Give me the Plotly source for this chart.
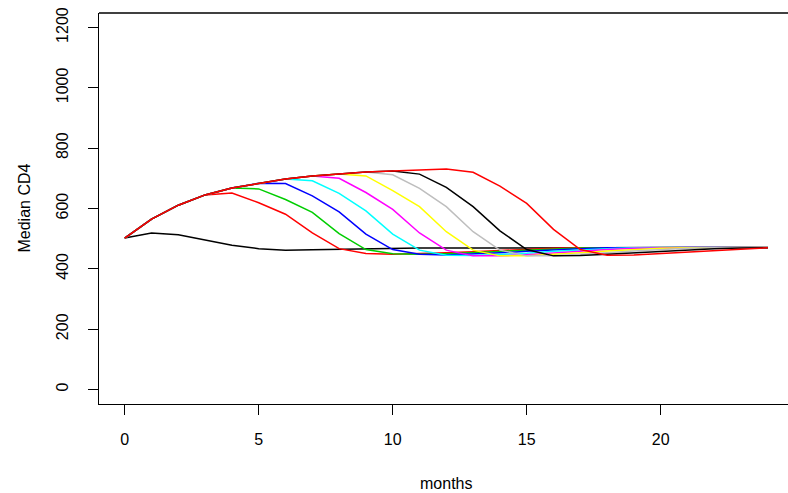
import plotly.graph_objects as go

months = list(range(25))

baseline = [502, 519, 513, 495, 478, 467, 462, 463, 465, 467, 468, 469, 469,
            469, 469, 470, 470, 470, 470, 470, 470, 471, 471, 471, 471]
switch4 = [502, 565, 611, 645, 651, 619, 581, 519, 467, 451, 448, 450, 453,
           457, 461, 465, 468, 470, 470, 471, 471, 471, 471, 471, 471]
switch5 = [502, 565, 611, 645, 668, 665, 630, 587, 517, 464, 450, 448, 450,
           454, 458, 462, 466, 469, 470, 471, 471, 471, 471, 471, 471]
switch6 = [502, 565, 611, 645, 668, 684, 683, 642, 589, 515, 464, 448, 446,
           449, 453, 458, 463, 467, 470, 471, 471, 471, 471, 471, 471]
switch7 = [502, 565, 611, 645, 668, 684, 698, 692, 650, 592, 515, 462, 445,
           444, 447, 452, 458, 463, 467, 470, 471, 471, 471, 471, 471]
switch8 = [502, 565, 611, 645, 668, 684, 698, 708, 700, 653, 597, 519, 462,
           443, 443, 447, 453, 459, 464, 468, 470, 471, 471, 471, 471]
switch9 = [502, 565, 611, 645, 668, 684, 698, 708, 714, 708, 659, 606, 523,
           462, 443, 443, 447, 453, 459, 464, 468, 470, 471, 471, 471]
switch10 = [502, 565, 611, 645, 668, 684, 698, 708, 714, 721, 712, 667, 606,
            523, 462, 443, 443, 447, 453, 459, 464, 468, 470, 471, 471]
switch11 = [502, 565, 611, 645, 668, 684, 698, 708, 714, 721, 724, 714, 670,
            606, 526, 464, 443, 444, 448, 453, 459, 464, 467, 469, 470]
switch12 = [502, 565, 611, 645, 668, 684, 698, 708, 714, 721, 724, 728, 731,
            720, 674, 617, 531, 464, 445, 446, 451, 456, 462, 467, 470]

series = [baseline, switch4, switch5, switch6, switch7, switch8,
          switch9, switch10, switch11, switch12]
colors = ["#000000", "#FF0000", "#00CD00", "#0000FF", "#00FFFF",
          "#FF00FF", "#FFFF00", "#BEBEBE", "#000000", "#FF0000"]

x_ticks = [0, 5, 10, 15, 20]
y_ticks = [0, 200, 400, 600, 800, 1000, 1200]

fig = go.Figure()
for vals, col in zip(series, colors):
    fig.add_trace(go.Scatter(x=months, y=vals, mode="lines",
                             line=dict(color=col, width=1.5),
                             showlegend=False, hoverinfo="skip"))

font = dict(family="Liberation Sans, Arial, sans-serif", size=16, color="black")

fig.update_layout(
    width=788, height=493,
    margin=dict(l=99, r=0, t=13, b=89),
    paper_bgcolor="white", plot_bgcolor="white",
    font=font,
    xaxis=dict(range=[-0.96, 24.75], tickvals=x_ticks,
               ticktext=[str(v) for v in x_ticks],
               showgrid=False, zeroline=False, showline=True,
               linecolor="black", linewidth=1.3,
               ticks="outside", ticklen=10, tickwidth=1.3, tickcolor="black",
               ticklabelstandoff=11, tickfont=font),
    yaxis=dict(range=[-48, 1248], tickvals=y_ticks,
               ticktext=[str(v) for v in y_ticks],
               showgrid=False, zeroline=False, showline=True,
               linecolor="black", linewidth=1.3,
               ticks="outside", ticklen=10, tickwidth=1.3, tickcolor="black",
               tickangle=-90, ticklabelstandoff=13, tickfont=font),
    shapes=[dict(type="line", xref="paper", yref="paper", x0=0, x1=1,
                 y0=1, y1=1, line=dict(color="black", width=1.3))],
    annotations=[
        dict(text="months", xref="paper", yref="paper", x=0.5036, y=0,
             yshift=-79, showarrow=False, xanchor="center", yanchor="middle",
             font=font),
        dict(text="Median CD4", xref="paper", yref="paper", x=0, y=0.5,
             xshift=-75, textangle=-90, showarrow=False, xanchor="center",
             yanchor="middle", font=font),
    ],
)

fig.write_html("out.html")
